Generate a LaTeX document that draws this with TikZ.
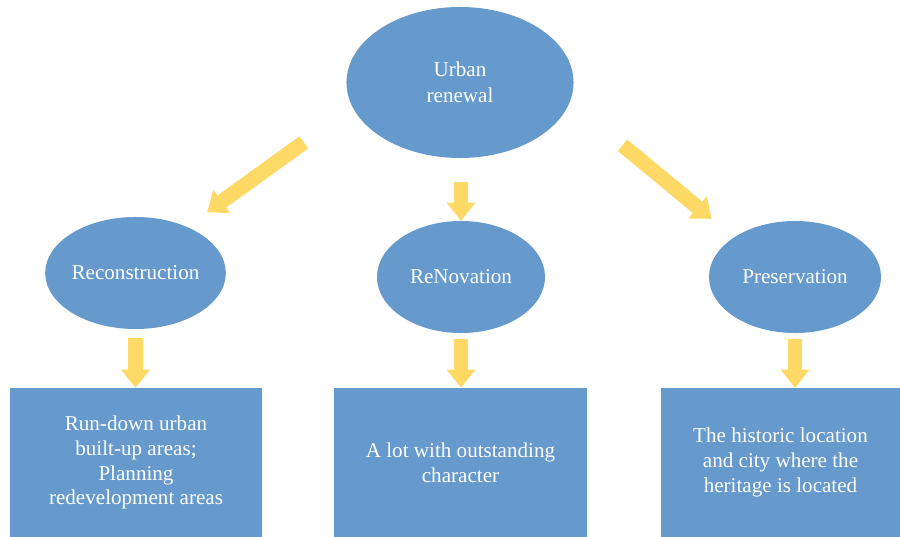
\documentclass[tikz,border=0pt]{standalone}
\usepackage{fontspec}
\setmainfont{Liberation Serif}
\usetikzlibrary{shapes.geometric, arrows.meta}
\usepackage{xcolor}
\definecolor{nodeblue}{HTML}{6699CC}
\definecolor{arrowgold}{HTML}{FFD966}

\begin{document}
\begin{tikzpicture}[
    x = 0.025cm, y = -0.025cm,   % one unit = one pixel of the layout, y downwards
    topic/.style = {
        ellipse, fill = nodeblue, inner sep = 0pt,
        minimum width = 4.25cm, minimum height = 2.8cm,
        text = white, align = center,
        font = \fontsize{15}{18.4}\selectfont
    },
    area/.style = {
        rectangle, fill = nodeblue, inner sep = 0pt,
        minimum height = 3.725cm,
        text = white, align = center,
        font = \fontsize{15}{17.7}\selectfont
    },
    fatarrow/.style = {
        draw = arrowgold, line width = 10.6pt,
        -{Triangle[width = 20.6pt, length = 12.8pt, line width = 0pt]}
    }
]

\useasboundingbox (0,0) rectangle (900,537);
\fill[white] (0,0) rectangle (900,537);

% --- Ellipses (px coordinates) ---
\node[topic, minimum width = 5.675cm, minimum height = 3.775cm]
                (urban) at (460, 82.5) {Urban\\renewal};

\node[topic, minimum width = 4.225cm] (recon) at (135.5, 273) {Reconstruction};

\node[topic, minimum width = 4.2cm]   (renov) at (461, 277)   {ReNovation};

\node[topic, minimum width = 4.3cm]   (presv) at (795, 277)   {Preservation};

% --- Boxes ---
\node[area, minimum width = 6.3cm]   (recbox) at (136, 462.5)
    {Run-down urban\\built-up areas;\\Planning\\redevelopment areas};

\node[area, minimum width = 6.325cm] (renbox) at (460.5, 462.5)
    {A lot with outstanding\\character};

\node[area, minimum width = 5.975cm] (prebox) at (780.5, 462.5)
    {The historic location\\and city where the\\heritage is located};

% --- Block arrows ---
\draw[fatarrow, shorten <= 1.5cm, shorten >= 0.625cm] (urban.193) -- (recon.42.5);
\draw[fatarrow, shorten <= 0.6cm] (urban.south -| renov.north) -- (renov.north);
\draw[fatarrow, shorten <= 1.7cm, shorten >= 0.725cm] (urban.350) -- (presv.147);

\draw[fatarrow, shorten <= 0.225cm] (recon.south) -- (recon.south |- recbox.north);
\draw[fatarrow, shorten <= 0.15cm]  (renov.south) -- (renov.south |- renbox.north);
\draw[fatarrow, shorten <= 0.15cm]  (presv.south) -- (presv.south |- prebox.north);

\end{tikzpicture}
\end{document}
